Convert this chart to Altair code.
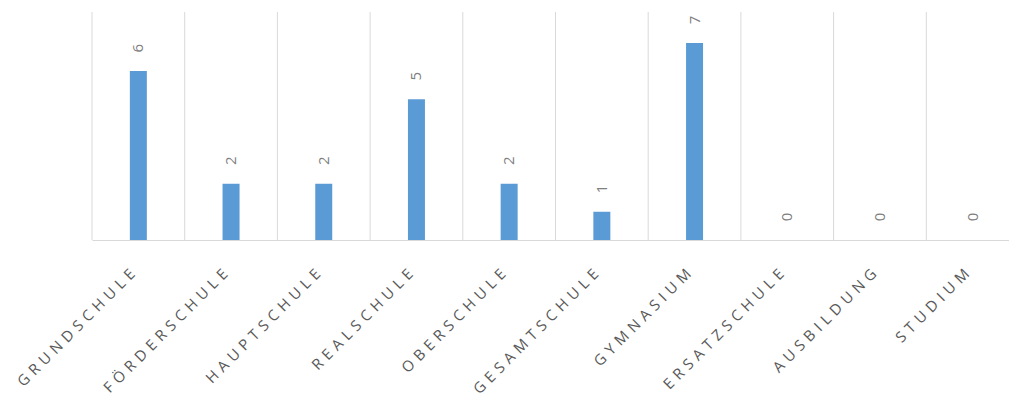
import altair as alt
import pandas as pd

categories = ["GRUNDSCHULE", "FÖRDERSCHULE", "HAUPTSCHULE", "REALSCHULE", "OBERSCHULE",
              "GESAMTSCHULE", "GYMNASIUM", "ERSATZSCHULE", "AUSBILDUNG", "STUDIUM"]
values = [6, 2, 2, 5, 2, 1, 7, 0, 0, 0]

df = pd.DataFrame({"cat": categories, "val": values})

xscale = alt.Scale(range=[0, 927], paddingInner=0, paddingOuter=0)
yscale = alt.Scale(domain=[0, 8.1], nice=False)

# widen letter spacing of the category labels (as in the reference)
spaced = "join(split(datum.label, ''), '\u2004')"

x_axis = alt.Axis(title=None, labelAngle=-45, labelAlign="right", labelBaseline="middle",
                  labelPadding=31, labelOffset=-6, ticks=False, domain=True,
                  domainColor="#d9d9d9", grid=False, labelFont="Open Sans",
                  labelFontSize=15, labelColor="#595959",
                  labelExpr=spaced, labelLimit=400)

base = alt.Chart(df)

grid = base.mark_rule(color="#d9d9d9", strokeWidth=1).encode(
    x=alt.X("cat:N", sort=categories, scale=xscale, bandPosition=0, axis=x_axis),
    y=alt.value(0),
    y2=alt.value(228),
)

bars = base.mark_bar(size=17, color="#5b9bd5").encode(
    x=alt.X("cat:N", sort=categories, scale=xscale, axis=x_axis),
    y=alt.Y("val:Q", scale=yscale, axis=None),
)

labels = base.mark_text(angle=270, align="center", baseline="middle", yOffset=-23,
                        fontSize=15, color="#7f7f7f", font="Open Sans").encode(
    x=alt.X("cat:N", sort=categories, scale=xscale, axis=x_axis),
    y=alt.Y("val:Q", scale=yscale, axis=None),
    text=alt.Text("val:Q"),
)

chart = alt.layer(grid, bars, labels).properties(
    width=917, height=228,
    autosize=alt.AutoSizeParams(type="none"),
    padding={"left": 92, "top": 12, "right": 0, "bottom": 163},
).configure_view(stroke=None)

chart.save("out.html", embed_options={"renderer": "svg", "actions": False})
